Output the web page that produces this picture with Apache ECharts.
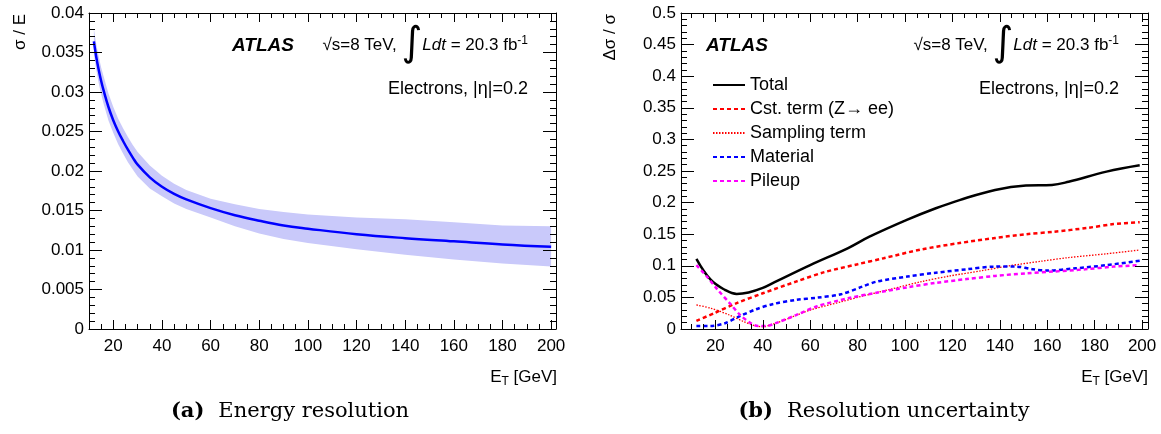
<!DOCTYPE html>
<html>
<head>
<meta charset="utf-8">
<script src="https://cdn.jsdelivr.net/npm/echarts@6/dist/echarts.min.js"></script>
<style>
  html, body { margin: 0; padding: 0; background: #fff; }
  #chart { width: 1161px; height: 434px; }
</style>
</head>
<body>
<div id="chart"></div>
<script>
// ---- data ----

// (a) energy resolution, sigma/E vs E_T
const resEt    = [12, 13, 14, 15, 16, 18, 20, 22, 24, 26, 28, 30, 35, 40, 45, 50, 60, 70, 80, 90, 100, 120, 140, 160, 180, 200]
const resVal   = [0.0364, 0.0344, 0.0328, 0.0314, 0.0302, 0.0281, 0.0264, 0.0250, 0.0238, 0.0227, 0.0217, 0.0208, 0.0192, 0.0180, 0.0171, 0.0164, 0.0153, 0.0144, 0.0137, 0.0131, 0.0127, 0.0120, 0.0115, 0.0111, 0.0107, 0.0104]
const resUpper = [0.0380, 0.0360, 0.0345, 0.0331, 0.0320, 0.0298, 0.0281, 0.0266, 0.0254, 0.0243, 0.0233, 0.0224, 0.0207, 0.0194, 0.0184, 0.0176, 0.0165, 0.0158, 0.0152, 0.0148, 0.0145, 0.0141, 0.0139, 0.0135, 0.0131, 0.0130]
const resLower = [0.0348, 0.0328, 0.0311, 0.0297, 0.0285, 0.0264, 0.0248, 0.0234, 0.0222, 0.0211, 0.0202, 0.0193, 0.0178, 0.0168, 0.0159, 0.0152, 0.0141, 0.0130, 0.0121, 0.0114, 0.0109, 0.0101, 0.0094, 0.0088, 0.0083, 0.0079]

// (b) resolution uncertainty components
const totalEt = [12, 18, 24, 29, 34, 40, 45, 60, 76, 85, 101, 113, 123, 138, 151, 162, 169, 185, 199]
const totalVal = [0.111, 0.078, 0.062, 0.0555, 0.0578, 0.065, 0.074, 0.101, 0.128, 0.146, 0.173, 0.191, 0.204, 0.220, 0.227, 0.228, 0.233, 0.249, 0.259]

const cstEt = [12, 19.5, 29, 40, 54, 66, 80, 91, 107, 123, 138, 151, 163, 177, 188, 199]
const cstVal = [0.013, 0.025, 0.041, 0.0565, 0.075, 0.090, 0.1025, 0.112, 0.126, 0.136, 0.144, 0.150, 0.154, 0.160, 0.166, 0.169]

const samplingEt = [12, 18, 26, 32, 37, 40, 44.5, 51, 60, 73, 82, 94, 107, 119, 132, 144, 157, 169, 185, 199]
const samplingVal = [0.038, 0.033, 0.022, 0.0116, 0.0048, 0.0037, 0.008, 0.017, 0.030, 0.043, 0.052, 0.063, 0.075, 0.084, 0.092, 0.100, 0.107, 0.113, 0.119, 0.125]

const materialEt = [12, 18, 24, 30.5, 37, 44.5, 54, 63, 73, 82, 88, 101, 113, 126, 138, 147, 154, 160, 172, 185, 199]
const materialVal = [0.0048, 0.0048, 0.009, 0.0206, 0.031, 0.0396, 0.046, 0.0496, 0.055, 0.067, 0.075, 0.083, 0.089, 0.0945, 0.0987, 0.0987, 0.0945, 0.0924, 0.096, 0.101, 0.108]

const pileupEt = [12, 16.4, 21, 26, 30.5, 35, 38, 41.5, 46, 54, 63, 76, 88, 101, 113, 126, 138, 151, 163, 176, 188, 199]
const pileupVal = [0.101, 0.083, 0.062, 0.041, 0.022, 0.009, 0.0048, 0.0048, 0.010, 0.022, 0.036, 0.0486, 0.0575, 0.066, 0.073, 0.079, 0.084, 0.088, 0.091, 0.0945, 0.0987, 0.101]

const legendNames = ['Total', 'Cst. term (Z→ ee)', 'Sampling term', 'Material', 'Pileup']

const majorTicksX = [20, 40, 60, 80, 100, 120, 140, 160, 180, 200]
const minorTicksX = [10, 15, 25, 30, 35, 45, 50, 55, 65, 70, 75, 85, 90, 95, 105, 110, 115, 125, 130, 135, 145, 150, 155, 165, 170, 175, 185, 190, 195, 200]

// ---- helpers ----

const FONT = '"Liberation Sans", Arial, Helvetica, sans-serif'
const SERIF = '"DejaVu Serif", serif'
const pairs = (xs, ys) => xs.map((x, i) => [x, ys[i]])

const xAxesFor = (grid, min, max) => {
  const base = {
    gridIndex: grid, type: 'value', min, max, z: 10,
    splitLine: { show: false }
  }
  return [
    { ...base, position: 'bottom',
      axisLine: { show: true, lineStyle: { color: '#000', width: 1 } },
      axisTick: { show: true, inside: true, length: 9, customValues: majorTicksX, lineStyle: { color: '#000' } },
      axisLabel: { show: true, customValues: majorTicksX, color: '#000', fontSize: 17, fontFamily: FONT, margin: 9 } },
    { ...base, position: 'bottom',
      axisLine: { show: false },
      axisTick: { show: true, inside: true, length: 5, customValues: minorTicksX, lineStyle: { color: '#000' } },
      axisLabel: { show: false } },
    { ...base, position: 'top',
      axisLine: { show: true, lineStyle: { color: '#000', width: 1 } },
      axisTick: { show: true, inside: true, length: 9, customValues: majorTicksX, lineStyle: { color: '#000' } },
      axisLabel: { show: false } },
    { ...base, position: 'top',
      axisLine: { show: false },
      axisTick: { show: true, inside: true, length: 5, customValues: minorTicksX, lineStyle: { color: '#000' } },
      axisLabel: { show: false } }
  ]
}

const yAxesFor = (grid, max, interval) => {
  const base = {
    gridIndex: grid, type: 'value', min: 0, max, interval, z: 10,
    splitLine: { show: false },
    axisLine: { show: true, lineStyle: { color: '#000', width: 1 } },
    axisTick: { show: true, inside: true, length: 13, lineStyle: { color: '#000' } },
    minorTick: { show: true, splitNumber: 5, length: 6, lineStyle: { color: '#000' } }
  }
  return [
    { ...base, position: 'left',
      axisLabel: { color: '#000', fontSize: 17, fontFamily: FONT, margin: 5 } },
    { ...base, position: 'right', axisLabel: { show: false } }
  ]
}

const curve = (name, xi, yi, xs, ys, color, width, dash, smooth) => ({
  name, type: 'line', xAxisIndex: xi, yAxisIndex: yi,
  data: pairs(xs, ys), showSymbol: false, symbol: 'none', smooth,
  lineStyle: { color, width, type: dash },
  itemStyle: { color },
  silent: true,
  z: 5
})

const lumiRich = {
  n: { fontFamily: FONT, fontSize: 17, color: '#000' },
  i: { fontFamily: FONT, fontSize: 17, fontStyle: 'italic', color: '#000' },
  g: { fontFamily: '"DejaVu Sans"', fontSize: 40, color: '#000' },
  s: { fontFamily: FONT, fontSize: 12, color: '#000', lineHeight: 12, padding: [0, 0, 9, 0] }
}

const annot = (right, atlasX) => ([
  { type: 'text', x: atlasX, y: 46, z: 20,
    style: { text: 'ATLAS', font: 'italic bold 19px ' + FONT, fill: '#000', align: 'left', verticalAlign: 'middle' } },
  { type: 'text', x: right, y: 45, z: 20,
    style: { text: '{n|√s=8 TeV, }{g|∫}{i|Ldt}{n| = 20.3 fb}{s|-1}', rich: lumiRich, align: 'right', verticalAlign: 'middle' } },
  { type: 'text', x: right, y: 89, z: 20,
    style: { text: 'Electrons, |η|=0.2', font: '18px ' + FONT, fill: '#000', align: 'right', verticalAlign: 'middle' } },
  { type: 'text', x: right + 29, y: 377, z: 20,
    style: { text: '{n|E}{s|T}{n| [GeV]}', align: 'right', verticalAlign: 'middle',
      rich: { n: { fontFamily: FONT, fontSize: 17, color: '#000' },
              s: { fontFamily: FONT, fontSize: 12, color: '#000', lineHeight: 12, padding: [9, 0, 0, 0] } } } }
])

const caption = (cx, letter, text) => ({
  type: 'text', x: cx, y: 412,
  style: { text: '{b|(' + letter + ')}{r|' + text + '}', align: 'center', verticalAlign: 'middle',
    rich: { b: { fontFamily: SERIF, fontSize: 21, fontWeight: 'bold', color: '#000', padding: [0, 14, 0, 0] },
            r: { fontFamily: SERIF, fontSize: 21, color: '#000' } } }
})

const yName = (x, text) => ({
  type: 'text', x, y: 14, rotation: Math.PI / 2,
  style: { text, font: '17px ' + FONT, fill: '#000', align: 'right', verticalAlign: 'middle' }
})

// band of sigma/E drawn as one polygon through the axis scales
const renderBand = (params, api) => {
  if (params.dataIndex !== 0) return null
  const upper = resEt.map((x, i) => api.coord([x, resUpper[i]]))
  const lower = resEt.map((x, i) => api.coord([x, resLower[i]])).reverse()
  return {
    type: 'polygon',
    shape: { points: upper.concat(lower) },
    style: { fill: '#c9c9fa' }
  }
}

// ---- chart ----

const chart = echarts.init(document.getElementById('chart'), null, { renderer: 'canvas' })

const option = {
  animation: false,
  backgroundColor: '#fff',
  grid: [
    { left: 89, top: 13, width: 467, height: 316 },
    { left: 681, top: 13, width: 467, height: 316 }
  ],
  xAxis: [...xAxesFor(0, 10, 202), ...xAxesFor(1, 5.5, 202.5)],
  yAxis: [...yAxesFor(0, 0.04, 0.005), ...yAxesFor(1, 0.5, 0.05)],
  legend: {
    show: true, orient: 'vertical', left: 712, top: 76, padding: 0,
    itemWidth: 32, itemHeight: 14, itemGap: 6,
    itemStyle: { color: 'rgba(0,0,0,0)', borderWidth: 0, opacity: 0 },
    textStyle: { fontFamily: FONT, fontSize: 18, color: '#000', lineHeight: 15 },
    data: legendNames
  },
  series: [
    { name: 'band', type: 'custom', xAxisIndex: 0, yAxisIndex: 0,
      data: resEt.map((x, i) => [x, resLower[i], resUpper[i]]),
      encode: { x: 0, y: [1, 2] },
      renderItem: renderBand, silent: true, z: 1 },
    curve('resolution', 0, 0, resEt, resVal, '#0000ff', 2.5, 'solid', 0.4),

    curve(legendNames[0], 4, 2, totalEt, totalVal, '#000000', 2.5, 'solid', 0.4),
    curve(legendNames[1], 4, 2, cstEt, cstVal, '#ff0000', 2.5, [4, 3], 0.3),
    curve(legendNames[2], 4, 2, samplingEt, samplingVal, '#ff0000', 1.3, [1.5, 1.5], 0.3),
    curve(legendNames[3], 4, 2, materialEt, materialVal, '#0000ff', 2.5, [4, 3], 0.3),
    curve(legendNames[4], 4, 2, pileupEt, pileupVal, '#ff00ff', 2.5, [4, 3], 0.3)
  ],
  graphic: [
    ...annot(528, 232),
    ...annot(1119, 706),
    yName(20, 'σ / E'),
    yName(610, 'Δσ / σ'),
    caption(290, 'a', 'Energy resolution'),
    caption(884, 'b', 'Resolution uncertainty')
  ]
}

chart.setOption(option)
</script>
</body>
</html>
